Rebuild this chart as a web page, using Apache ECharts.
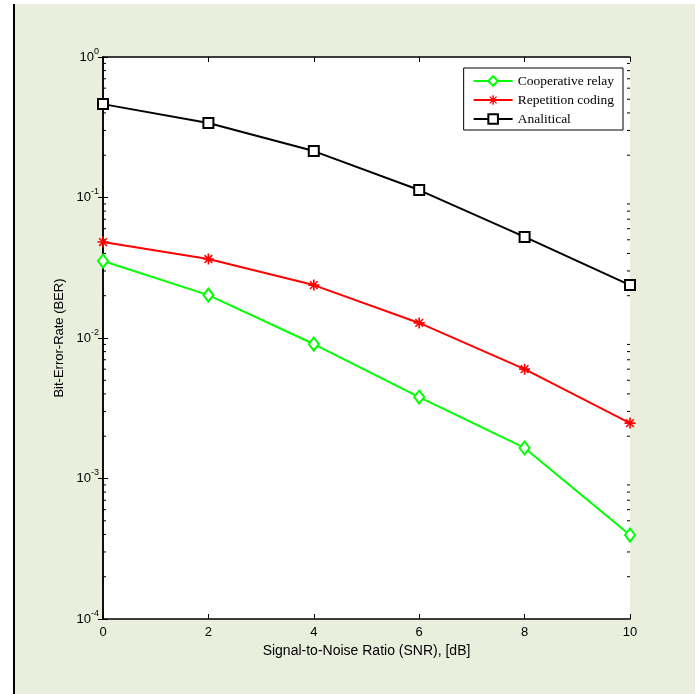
<!DOCTYPE html>
<html>
<head>
<meta charset="utf-8">
<script src="https://cdn.jsdelivr.net/npm/echarts@6/dist/echarts.min.js"></script>
<style>
  html, body { margin: 0; padding: 0; background: #fff; }
  #main { width: 697px; height: 694px; }
</style>
</head>
<body>
<div id="main"></div>
<script>
// SNR in dB
var snr = [0, 2, 4, 6, 8, 10];
var cooperative = [0.0353, 0.0202, 0.00906, 0.0038, 0.00165, 0.000396];
var repetition = [0.0482, 0.0365, 0.0238, 0.0128, 0.0060, 0.00248];
var analytical = [0.462, 0.339, 0.214, 0.113, 0.0524, 0.0238];
var seriesNames = ['Cooperative relay', 'Repetition coding', 'Analitical'];
var xTicks = [0, 2, 4, 6, 8, 10];
var yDecades = [-4, -3, -2, -1, 0];

// log-spaced minor ticks (2..9 within each decade)
var minorTicks = [];
for (var d = -4; d < 0; d++) {
  for (var k = 2; k <= 9; k++) minorTicks.push([0, k * Math.pow(10, d)]);
}

var chartDom = document.getElementById('main');
var myChart = echarts.init(chartDom);

// matlab-like '*' marker as filled thin bars (+ and x)
var asterisk = 'path://M-1.5,-10L1.5,-10L1.5,10L-1.5,10Z' +
  'M-10,-1.5L10,-1.5L10,1.5L-10,1.5Z' +
  'M-6,-8L8,6L6,8L-8,-6Z' +
  'M8,-6L-6,8L-8,6L6,-8Z';

function pair(a) { return snr.map(function (x, i) { return [x, a[i]]; }); }

var tickStyle = { inside: true, length: 5, lineStyle: { color: '#000', width: 1 } };
var font = 'Liberation Sans';

var option = {
  animation: false,
  backgroundColor: '#fff',
  graphic: [
    { type: 'rect', z: -10, shape: { x: 14, y: 4, width: 681, height: 690 }, style: { fill: '#e9efdc' } },
    { type: 'line', z: -5, shape: { x1: 14, y1: 4, x2: 14, y2: 694 }, style: { stroke: '#000', lineWidth: 2 } },
    { type: 'rect', z: -8, shape: { x: 103, y: 57, width: 527, height: 562 }, style: { fill: '#fff' } }
  ],
  grid: { left: 103, top: 57, width: 527, height: 562, show: false },
  legend: {
    right: 74, top: 68,
    orient: 'vertical',
    backgroundColor: '#fff',
    borderColor: '#000', borderWidth: 1, borderRadius: 0,
    padding: [6, 9, 4, 9],
    itemGap: 5,
    itemWidth: 39, itemHeight: 12,
    textStyle: { fontFamily: 'Liberation Serif', fontSize: 13.5, color: '#000' },
    data: seriesNames
  },
  xAxis: [{
    type: 'value', min: 0, max: 10, interval: 2,
    name: 'Signal-to-Noise Ratio (SNR), [dB]',
    nameLocation: 'middle', nameGap: 23,
    nameTextStyle: { fontFamily: font, fontSize: 14, color: '#000' },
    axisLine: { lineStyle: { color: '#000', width: 1.5 } },
    axisTick: tickStyle,
    axisLabel: { fontFamily: font, fontSize: 13, color: '#000', margin: 7,
      formatter: function (v) { return xTicks.indexOf(v) >= 0 ? String(v) : ''; } },
    splitLine: { show: false }
  }, {
    type: 'value', min: 0, max: 10, interval: 2, position: 'top',
    axisLine: { lineStyle: { color: '#000', width: 1.5 } },
    axisTick: tickStyle, axisLabel: { show: false }, splitLine: { show: false }
  }],
  yAxis: [{
    type: 'log', logBase: 10, min: 1e-4, max: 1,
    name: 'Bit-Error-Rate (BER)',
    nameLocation: 'middle', nameGap: 27,
    nameTextStyle: { fontFamily: font, fontSize: 13, color: '#000' },
    axisLine: { lineStyle: { color: '#000', width: 1.5 } },
    axisTick: tickStyle,
    axisLabel: {
      margin: 4,
      formatter: function (v) {
        var e = Math.round(Math.log10(v));
        if (yDecades.indexOf(e) < 0) return '';
        return '{b|10}{s|' + e + '}';
      },
      rich: {
        b: { fontFamily: font, fontSize: 13, color: '#000' },
        s: { fontFamily: font, fontSize: 9, color: '#000', verticalAlign: 'bottom', padding: [0, 0, 11, 0] }
      }
    },
    splitLine: { show: false }
  }, {
    type: 'log', logBase: 10, min: 1e-4, max: 1, position: 'right',
    axisLine: { lineStyle: { color: '#000', width: 1.5 } },
    axisTick: tickStyle, axisLabel: { show: false }, splitLine: { show: false }
  }],
  series: [
    {
      name: 'minor', type: 'custom', silent: true, z: 1,
      data: minorTicks,
      renderItem: function (params, api) {
        var p = api.coord([0, api.value(1)]);
        var cs = params.coordSys;
        var y = p[1];
        return {
          type: 'group',
          children: [
            { type: 'line', shape: { x1: cs.x, y1: y, x2: cs.x + 3, y2: y }, style: { stroke: '#000', lineWidth: 1 } },
            { type: 'line', shape: { x1: cs.x + cs.width - 3, y1: y, x2: cs.x + cs.width, y2: y }, style: { stroke: '#000', lineWidth: 1 } }
          ]
        };
      }
    },
    {
      name: seriesNames[0], type: 'line', data: pair(cooperative),
      symbol: 'diamond', symbolSize: [10, 13],
      lineStyle: { color: '#00ff00', width: 2 },
      itemStyle: { color: '#fff', borderColor: '#00ff00', borderWidth: 2 }
    },
    {
      name: seriesNames[1], type: 'line', data: pair(repetition),
      symbol: asterisk, symbolSize: 11,
      lineStyle: { color: '#ff0000', width: 2 },
      itemStyle: { color: '#ff0000', borderColor: '#ff0000', borderWidth: 0 }
    },
    {
      name: seriesNames[2], type: 'line', data: pair(analytical),
      symbol: 'rect', symbolSize: 10,
      lineStyle: { color: '#000', width: 2 },
      itemStyle: { color: '#fff', borderColor: '#000', borderWidth: 2 }
    }
  ]
};

option && myChart.setOption(option);
</script>
</body>
</html>
